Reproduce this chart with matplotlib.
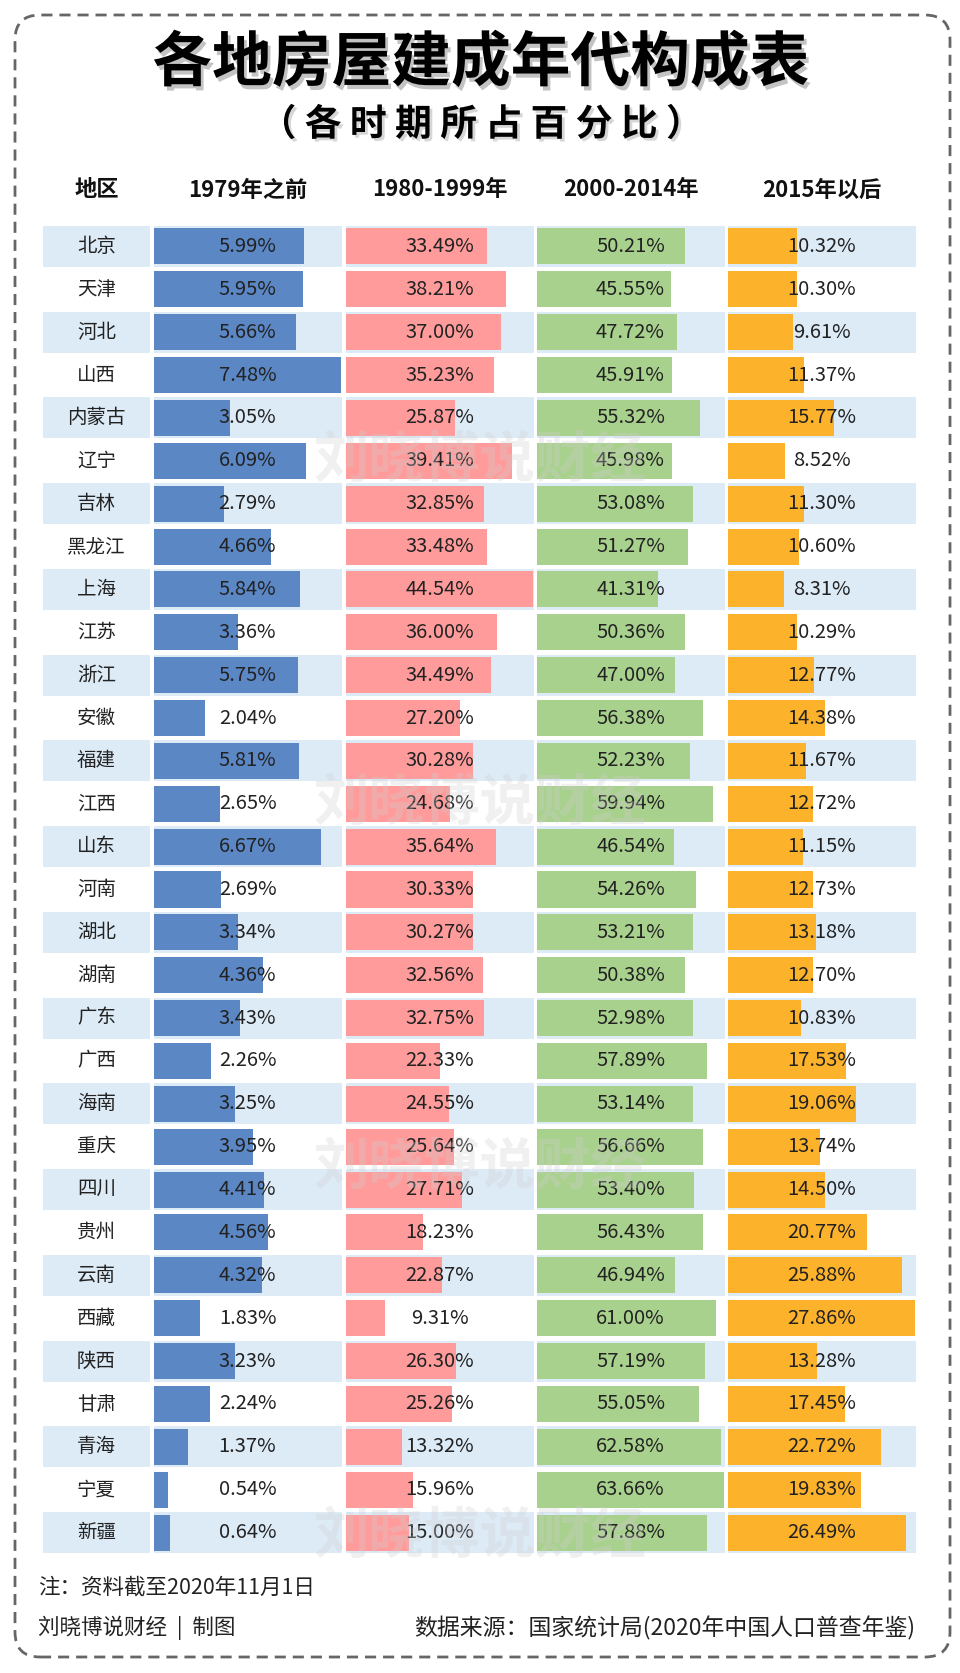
import matplotlib
matplotlib.use('Agg')
import matplotlib.pyplot as plt
from matplotlib.patches import FancyBboxPatch
import matplotlib.patheffects as pe

plt.rcParams['font.family'] = ['Noto Sans CJK SC', 'DejaVu Sans']

regions = ['北京', '天津', '河北', '山西', '内蒙古', '辽宁', '吉林', '黑龙江', '上海', '江苏',
           '浙江', '安徽', '福建', '江西', '山东', '河南', '湖北', '湖南', '广东', '广西',
           '海南', '重庆', '四川', '贵州', '云南', '西藏', '陕西', '甘肃', '青海', '宁夏', '新疆']
pre1979 = [5.99, 5.95, 5.66, 7.48, 3.05, 6.09, 2.79, 4.66, 5.84, 3.36,
           5.75, 2.04, 5.81, 2.65, 6.67, 2.69, 3.34, 4.36, 3.43, 2.26,
           3.25, 3.95, 4.41, 4.56, 4.32, 1.83, 3.23, 2.24, 1.37, 0.54, 0.64]
y1980_1999 = [33.49, 38.21, 37.00, 35.23, 25.87, 39.41, 32.85, 33.48, 44.54, 36.00,
              34.49, 27.20, 30.28, 24.68, 35.64, 30.33, 30.27, 32.56, 32.75, 22.33,
              24.55, 25.64, 27.71, 18.23, 22.87, 9.31, 26.30, 25.26, 13.32, 15.96, 15.00]
y2000_2014 = [50.21, 45.55, 47.72, 45.91, 55.32, 45.98, 53.08, 51.27, 41.31, 50.36,
              47.00, 56.38, 52.23, 59.94, 46.54, 54.26, 53.21, 50.38, 52.98, 57.89,
              53.14, 56.66, 53.40, 56.43, 46.94, 61.00, 57.19, 55.05, 62.58, 63.66, 57.88]
post2015 = [10.32, 10.30, 9.61, 11.37, 15.77, 8.52, 11.30, 10.60, 8.31, 10.29,
            12.77, 14.38, 11.67, 12.72, 11.15, 12.73, 13.18, 12.70, 10.83, 17.53,
            19.06, 13.74, 14.50, 20.77, 25.88, 27.86, 13.28, 17.45, 22.72, 19.83, 26.49]
headers = ['地区', '1979年之前', '1980-1999年', '2000-2014年', '2015年以后']
title = '各地房屋建成年代构成表'
subtitle = '（ 各 时 期 所 占 百 分 比 ）'
watermark = '刘晓博说财经'
note = '注：资料截至2020年11月1日'
credit = '刘晓博说财经  |  制图'
source = '数据来源：国家统计局(2020年中国人口普查年鉴)'

series = [pre1979, y1980_1999, y2000_2014, post2015]
colors = ['#5B87C5', '#FF9B9B', '#A9D18E', '#FDB22B']
band_color = '#DDEBF7'

W, H = 960, 1673
fig = plt.figure(figsize=(W / 100, H / 100), dpi=100)
fig.patch.set_facecolor('white')


def px_axes(x0, y0, x1, y1):
    return fig.add_axes([x0 / W, 1 - y1 / H, (x1 - x0) / W, (y1 - y0) / H])


top, bottom = 225, 1554
n = len(regions)
col_x = [154, 346, 537, 728]
col_w = 188
rows = list(range(n))


def setup(ax):
    ax.set_ylim(n - 0.5, -0.5)
    ax.axis('off')
    for i in range(0, n, 2):
        ax.axhspan(i - 0.48, i + 0.48, color=band_color, zorder=0, lw=0)


ax_r = px_axes(43, top, 150, bottom)
ax_r.set_xlim(0, 1)
setup(ax_r)
for i, name in enumerate(regions):
    ax_r.text(0.5, i, name, ha='center', va='center', fontsize=14, color='#222222')

for x0, vals, c in zip(col_x, series, colors):
    ax = px_axes(x0, top, x0 + col_w, bottom)
    vmax = max(vals)
    ax.set_xlim(0, vmax * 1.005)
    setup(ax)
    ax.barh(rows, vals, height=0.84, color=c, zorder=1, lw=0)
    for i, v in enumerate(vals):
        ax.text(vmax / 2, i, f'{v:.2f}%', ha='center', va='center',
                fontsize=14.5, color='#222222', zorder=3)

# headers
hx = [97] + [x + col_w / 2 for x in col_x]
for x, h in zip(hx, headers):
    fig.text(x / W, 1 - 190 / H, h, ha='center', va='center', fontsize=16,
             fontweight='bold', color='#111111')

# title
fig.text(481 / W, 1 - 64 / H, title, ha='center', va='center', fontsize=43,
         fontweight='black', color='black',
         path_effects=[pe.withSimplePatchShadow(offset=(2, -3), shadow_rgbFace='#888888', alpha=0.5)])
fig.text(481 / W, 1 - 125 / H, subtitle, ha='center', va='center', fontsize=26.5,
         fontweight='bold', color='black',
         path_effects=[pe.withSimplePatchShadow(offset=(2, -2), shadow_rgbFace='#999999', alpha=0.4)])

# watermarks (faint, behind labels)
for r in [5, 13, 21.5, 30.1]:
    yy = top + (r + 0.5) * (bottom - top) / n
    fig.text(480 / W, 1 - yy / H, watermark, ha='center', va='center', fontsize=40,
             fontweight='black', color='#d0d0d0', alpha=0.3, zorder=0.5)

# footer
fig.text(38 / W, 1 - 1588 / H, note, ha='left', va='center', fontsize=15.5, color='#222222')
fig.text(38 / W, 1 - 1628 / H, credit, ha='left', va='center', fontsize=15.5, color='#222222')
fig.text(915 / W, 1 - 1628 / H, source, ha='right', va='center', fontsize=16.5, color='#222222')

# dashed rounded border
border = FancyBboxPatch((0.15, (H - 1657) / 100), (950 - 15) / 100, (1657 - 15) / 100,
                        boxstyle='round,pad=0,rounding_size=0.25',
                        transform=fig.dpi_scale_trans, fill=False,
                        edgecolor='#666666', lw=2, linestyle=(0, (4, 2.5)))
fig.add_artist(border)

fig.savefig('out.png', dpi=100, facecolor='white')
